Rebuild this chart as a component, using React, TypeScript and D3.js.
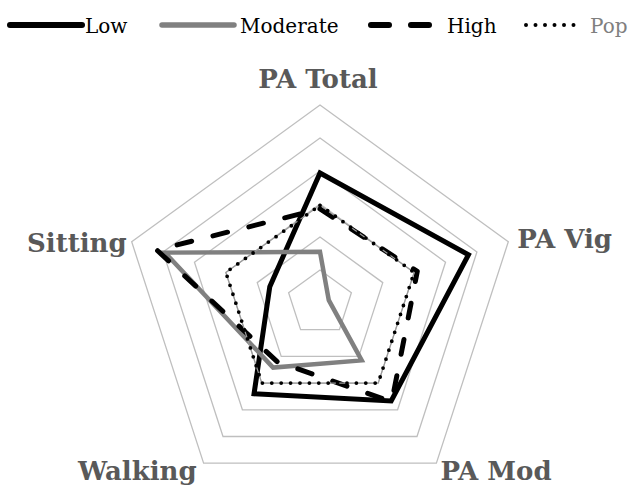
import React from "react";
import * as d3 from "d3";

const axes = ["PA Total", "PA Vig", "PA Mod", "Walking", "Sitting"];
const seriesNames = ["Low", "Moderate", "High", "Pop"];
const lowValues = [0.47, 0.865, 0.335, 0.2, -0.7];
const moderateValues = [-0.725, -1.36, -0.425, -0.29, 0.97];
const highValues = [-0.075, 0.05, 0.35, -0.4, 1.1];
const popValues = [-0.02, 0, 0, 0, 0];
const ringTicks = [-1.0, -0.5, 0, 0.5, 1.0, 1.5];

const W = 640, H = 485;
const cx = 320, cy = 303, R = 198;

const styles = [
  { stroke: "#000", width: 5, dash: undefined as string | undefined, cap: "butt", join: "miter" },
  { stroke: "#808080", width: 4.5, dash: undefined, cap: "butt", join: "miter" },
  { stroke: "#000", width: 5, dash: "15 22", cap: "round", join: "round" },
  { stroke: "#000", width: 3.8, dash: "0 9.4", cap: "round", join: "round" },
];

const labelOffsets = [
  { dx: -2, dy: -17, anchor: "middle" },
  { dx: 9, dy: 6, anchor: "start" },
  { dx: 4, dy: 17, anchor: "start" },
  { dx: -7, dy: 17, anchor: "end" },
  { dx: -5, dy: 10, anchor: "end" },
];

const legendItems = [
  { x0: 10, x1: 82, tx: 85 },
  { x0: 162, x1: 234, tx: 240 },
  { x0: 371, x1: 430, tx: 447 },
  { x0: 526, x1: 583, tx: 590 },
];

export default function App() {
  const r = d3.scaleLinear().domain([-1.5, 1.5]).range([0, R]);
  const angle = d3.scaleLinear().domain([0, axes.length]).range([0, 2 * Math.PI]);
  const pt = (i: number, v: number): [number, number] => {
    const a = angle(i);
    return [cx + r(v) * Math.sin(a), cy - r(v) * Math.cos(a)];
  };
  const line = d3.line<[number, number]>().curve(d3.curveLinearClosed);
  const all = [lowValues, moderateValues, highValues, popValues];
  const serif = "'DejaVu Serif', 'Liberation Serif', serif";

  return (
    <svg width={W} height={H} style={{ position: "absolute", left: 0, top: 0, background: "#fff" }}>
      <g>
        {ringTicks.map((t) => (
          <path
            key={t}
            d={line(axes.map((_, i) => pt(i, t))) || ""}
            fill="none"
            stroke="#bfbfbf"
            strokeWidth={1.3}
          />
        ))}
      </g>
      <g>
        {all.map((vals, s) => {
          const st = styles[s];
          const d = line(vals.map((v, i) => pt(i, v))) || "";
          return (
            <g key={s}>
              {s === 3 && <path d={d} fill="none" stroke="#9a9a9a" strokeWidth={1.2} />}
              <path
                d={d}
                fill="none"
                stroke={st.stroke}
                strokeWidth={st.width}
                strokeDasharray={st.dash}
                strokeLinecap={st.cap as any}
                strokeLinejoin={st.join as any}
              />
            </g>
          );
        })}
      </g>
      <g>
        {axes.map((name, i) => {
          const [x, y] = pt(i, 1.5);
          const o = labelOffsets[i];
          return (
            <text
              key={name}
              x={x + o.dx}
              y={y + o.dy}
              textAnchor={o.anchor}
              fontFamily={serif}
              fontWeight="bold"
              fontSize={26}
              fill="#595959"
            >
              {name}
            </text>
          );
        })}
      </g>
      <g>
        {seriesNames.map((name, s) => {
          const st = styles[s];
          const it = legendItems[s];
          return (
            <g key={name}>
              <line
                x1={it.x0}
                x2={it.x1}
                y1={25}
                y2={25}
                stroke={st.stroke}
                strokeWidth={s === 3 ? 4 : st.width + 1}
                strokeDasharray={s === 2 ? "18 22" : s === 3 ? "0 9.5" : st.dash}
                strokeLinecap="round"
              />
              <text
                x={it.tx}
                y={33}
                fontFamily={serif}
                fontSize={20}
                fill={s === 3 ? "#7f7f7f" : "#000"}
              >
                {name}
              </text>
            </g>
          );
        })}
      </g>
    </svg>
  );
}
